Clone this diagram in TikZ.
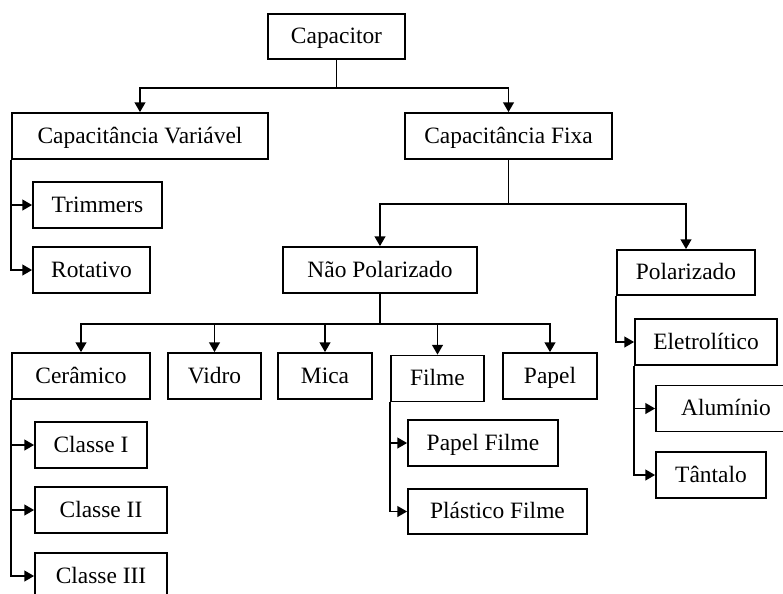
\documentclass[tikz,border=0pt]{standalone}
\usepackage{fontspec}
\setmainfont{Liberation Serif}
\usepackage{tikz}
\usetikzlibrary{arrows.meta,positioning}
\newcommand{\pxu}{0.018cm}

\begin{document}
\begin{tikzpicture}[x=\pxu, y=-\pxu,
        rectnode/.style={rectangle, draw=black, line width=0.9pt, inner sep=0pt,
            minimum height=46*\pxu, text height=2ex, text depth=0.4ex,
            font=\fontsize{12}{14}\selectfont},
        linkline/.style={line width=0.9pt, -{Triangle[length=5pt,width=5.5pt]}}]
        \useasboundingbox (0, 0) rectangle (783, 593);
        \clip (0, 0) rectangle (783, 593);
        \node [rectnode, minimum width=137*\pxu, minimum height=45*\pxu] at (336.5, 36.5) (cap) {Capacitor};
        \node [rectnode, minimum width=256*\pxu] at (140, 136)   (cv)    {Capacitância Variável};
        \node [rectnode, minimum width=207*\pxu] at (508.5, 136) (cf)    {Capacitância Fixa};
        \node [rectnode, minimum width=129*\pxu] at (97.5, 205)  (trim)  {Trimmers};
        \node [rectnode, minimum width=117*\pxu] at (91.5, 270)  (rot)   {Rotativo};
        \node [rectnode, minimum width=194*\pxu] at (380, 270)   (np)    {Não Polarizado};
        \node [rectnode, minimum width=138*\pxu, minimum height=45*\pxu] at (686, 272.5) (pol) {Polarizado};
        \node [rectnode, minimum width=138*\pxu] at (81, 376)    (cer)   {Cerâmico};
        \node [rectnode, minimum width=93*\pxu]  at (214.5, 376) (vid)   {Vidro};
        \node [rectnode, minimum width=94*\pxu]  at (325, 376)   (mica)  {Mica};
        \node [rectnode, minimum width=93*\pxu]  at (437.5, 378.5) (filme) {Filme};
        \node [rectnode, minimum width=94*\pxu]  at (550, 376)   (papel) {Papel};
        \node [rectnode, minimum width=112*\pxu] at (91, 445)    (c1)    {Classe I};
        \node [rectnode, minimum width=132*\pxu] at (101, 510)   (c2)    {Classe II};
        \node [rectnode, minimum width=132*\pxu] at (101, 576)   (c3)    {Classe III};
        \node [rectnode, minimum width=150*\pxu] at (483, 443)   (pf)    {Papel Filme};
        \node [rectnode, minimum width=179*\pxu, minimum height=45*\pxu] at (497.5, 511.5) (plf) {Plástico Filme};
        \node [rectnode, minimum width=142*\pxu] at (706, 342)   (ele)   {Eletrolítico};
        \node [rectnode, minimum width=140*\pxu] at (726, 408.5) (alu)   {Alumínio};
        \node [rectnode, minimum width=110*\pxu] at (711, 475)   (tan)   {Tântalo};

        \draw [linkline] (cap.south) -- ++(0, 28) -| (cv.north);
        \draw [linkline] (cap.south) -- ++(0, 28) -| (cf.north);
        \draw [linkline] (cf.south) -- ++(0, 44) -| (np.north);
        \draw [linkline] (cf.south) -- ++(0, 44) -| (pol.north);
        \foreach \kid in {cer, vid, mica, filme, papel}
            \draw [linkline] (np.south) -- ++(0, 30) -| (\kid.north);
        \foreach \kid in {trim, rot}
            \draw [linkline] (cv.south west) |- (\kid.west);
        \foreach \kid in {c1, c2, c3}
            \draw [linkline] (cer.south west) |- (\kid.west);
        \foreach \kid in {pf, plf}
            \draw [linkline] (filme.south west) |- (\kid.west);
        \draw [linkline] (pol.south west) |- (ele.west);
        \foreach \kid in {alu, tan}
            \draw [linkline] (ele.south west) |- (\kid.west);
    \end{tikzpicture}
\end{document}
